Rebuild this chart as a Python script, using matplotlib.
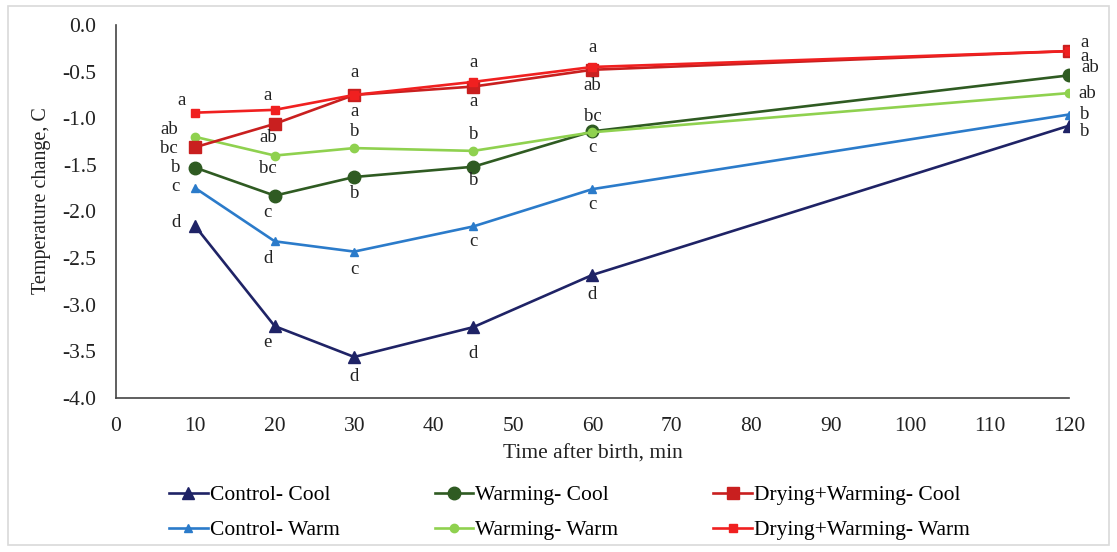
import matplotlib
matplotlib.use("Agg")
import matplotlib.pyplot as plt
from matplotlib.patches import Rectangle

plt.rcParams['font.family'] = ['Liberation Serif', 'DejaVu Serif']

time_min = [10, 20, 30, 45, 60, 120]
x_ticks = [0, 10, 20, 30, 40, 50, 60, 70, 80, 90, 100, 110, 120]
y_ticks = [0.0, -0.5, -1.0, -1.5, -2.0, -2.5, -3.0, -3.5, -4.0]

control_cool = [-2.16, -3.23, -3.56, -3.24, -2.68, -1.08]
control_warm = [-1.75, -2.32, -2.43, -2.16, -1.76, -0.96]
warming_cool = [-1.53, -1.83, -1.63, -1.52, -1.14, -0.54]
warming_warm = [-1.20, -1.40, -1.32, -1.35, -1.15, -0.73]
drywarm_cool = [-1.31, -1.06, -0.75, -0.66, -0.48, -0.28]
drywarm_warm = [-0.94, -0.91, -0.75, -0.61, -0.45, -0.28]

letters_control_cool = ['d', 'e', 'd', 'd', 'd', 'b']
letters_control_warm = ['c', 'd', 'c', 'c', 'c', 'b']
letters_warming_cool = ['b', 'c', 'b', 'b', 'c', 'ab']
letters_warming_warm = ['ab', 'bc', 'b', 'b', 'bc', 'ab']
letters_drywarm_cool = ['bc', 'ab', 'a', 'a', 'ab', 'a']
letters_drywarm_warm = ['a', 'a', 'a', 'a', 'a', 'a']

# order = legend order (column-major: each column holds Cool then Warm)
series = [
    ("Control- Cool", control_cool, letters_control_cool, '#1f2366', '^', 9),
    ("Control- Warm", control_warm, letters_control_warm, '#2b7bca', '^', 6),
    ("Warming- Cool", warming_cool, letters_warming_cool, '#2f5b22', 'o', 9),
    ("Warming- Warm", warming_warm, letters_warming_warm, '#8fd14f', 'o', 6),
    ("Drying+Warming- Cool", drywarm_cool, letters_drywarm_cool, '#c91f1f', 's', 9),
    ("Drying+Warming- Warm", drywarm_warm, letters_drywarm_warm, '#f02020', 's', 6),
]

# label offsets (points) per series, per point
offsets = {
    "Control- Cool": [(-14, 3), (-5, -12), (0, -14), (0, -19), (0, -14), (11, -4)],
    "Control- Warm": [(-14, 1), (-5, -12), (0, -13), (0, -11), (0, -11), (11, 0)],
    "Warming- Cool": [(-14, 0), (-5, -12), (0, -12), (0, -10), (0, -12), (15, 6)],
    "Warming- Warm": [(-19, 5), (-5, -9), (0, 12), (0, 12), (0, 11), (13, 0)],
    "Drying+Warming- Cool": [(-19, -1), (-5, -10), (0, -12), (0, -11), (0, -11), (11, -4)],
    "Drying+Warming- Warm": [(-10, 9), (-5, 10), (0, 16), (0, 14), (0, 14), (11, 6)],
}

fig = plt.figure(figsize=(11.17, 5.52), dpi=100)
fig.patches.append(Rectangle((0.007, 0.012), 0.986, 0.978, transform=fig.transFigure,
                             fill=False, edgecolor='#d9d9d9', linewidth=1.2))
ax = fig.add_axes([0.1038, 0.279, 0.8532, 0.6757])

for name, vals, lets, color, marker, ms in series:
    ax.plot(time_min, vals, color=color, marker=marker, markersize=ms,
            linewidth=1.9, label=name, zorder=3)
    for xv, yv, lt, off in zip(time_min, vals, lets, offsets[name]):
        ax.annotate(lt, (xv, yv), xytext=off, textcoords='offset points',
                    ha='center', va='center', fontsize=13.5, color='#222222')

ax.set_xlim(0, 120)
ax.set_ylim(-4.0, 0.0)
ax.set_xticks(x_ticks)
ax.set_yticks(y_ticks)
ax.set_yticklabels([f"{v:.1f}" for v in y_ticks])
ax.tick_params(axis='both', length=0, labelsize=15.5, colors='#222222')
ax.tick_params(axis='x', pad=14)
ax.tick_params(axis='y', pad=14)
for s in ['top', 'right']:
    ax.spines[s].set_visible(False)
for s in ['left', 'bottom']:
    ax.spines[s].set_color('#444444')
    ax.spines[s].set_linewidth(1.2)
ax.set_xlabel("Time after birth, min", fontsize=15.5, color='#222222', labelpad=6)
ax.set_ylabel("Temperature change, C", fontsize=14.5, color='#222222')
ax.yaxis.set_label_coords(-0.068, 0.53)

handles, labels = ax.get_legend_handles_labels()
leg = fig.legend(handles, labels, loc='lower left', bbox_to_anchor=(0.134, -0.014),
                 ncol=3, frameon=False, fontsize=15.5, handlelength=1.8,
                 handletextpad=0.1, columnspacing=4.4, labelspacing=0.7)

fig.savefig("out.png", dpi=100)
